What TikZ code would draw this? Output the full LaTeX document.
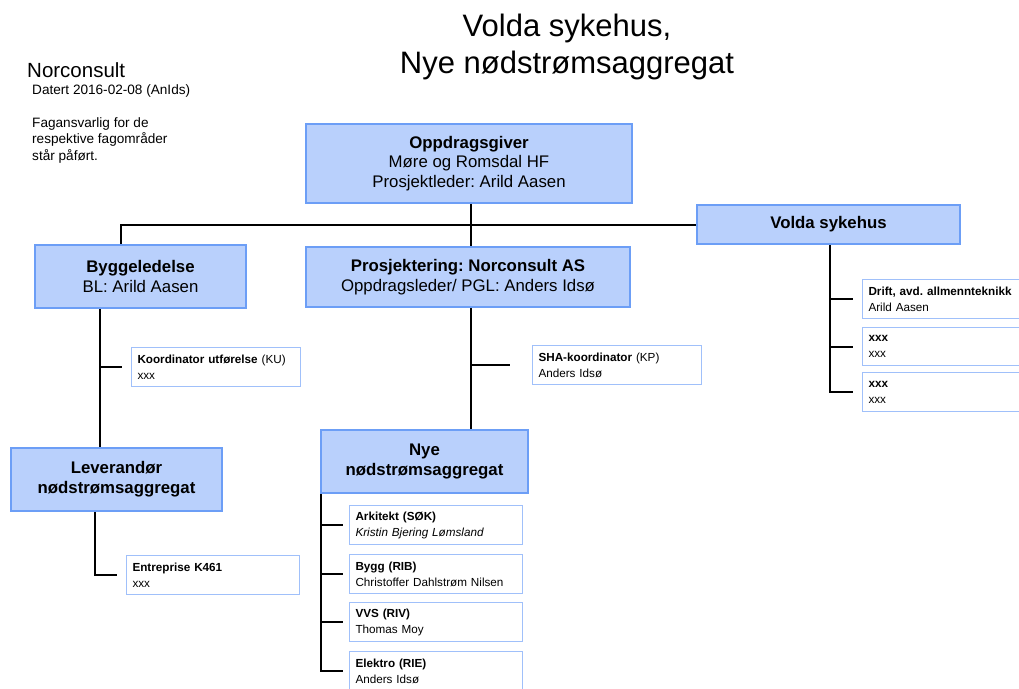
\documentclass[tikz,border=0pt]{standalone}
\usepackage{fontspec}
\setmainfont{Liberation Sans}
\usetikzlibrary{positioning, calc}
\definecolor{vsfill}{RGB}{185,208,252}
\definecolor{vsedge}{RGB}{108,158,246}
\definecolor{vsthin}{RGB}{160,192,250}
\frenchspacing

\begin{document}
\begin{tikzpicture}[x=1pt, y=-1pt,
  unit/.style={rectangle, draw=vsedge, line width=1.8pt, fill=vsfill, align=center, inner sep=0pt, font=\fontsize{16.8}{19.8}\selectfont},
  role/.style={rectangle, draw=vsthin, line width=1pt, fill=white, anchor=north west, align=left, inner xsep=6pt, inner ysep=0pt, text width=#1, minimum height=39pt, font=\fontsize{11.7}{16}\selectfont},
  role/.default=155pt,
  note/.style={anchor=west, inner sep=0pt, align=left},
  link/.style={line width=2pt, black}
]
\useasboundingbox (0,0) rectangle (1019,688);
\clip (0,0) rectangle (1019,688);

% title and notes
\node[align=center, inner sep=0pt, font=\fontsize{31}{37}\selectfont] (title) at (567,47) {Volda sykehus,\\Nye nødstrømsaggregat};
\node[note, font=\fontsize{20.5}{23}\selectfont] (firm) at (27,70) {Norconsult};
\node[note, font=\fontsize{13.6}{16}\selectfont] (date) at (32,91) {Datert 2016-02-08 (AnIds)};
\node[note, font=\fontsize{13.6}{16.5}\selectfont] (fag) at (32,140) {Fagansvarlig for de\\respektive fagområder\\står påført.};

% main units
\node[unit, minimum width=326pt, minimum height=79pt] (opp) at (469,163.5) {\textbf{Oppdragsgiver}\\Møre og Romsdal HF\\Prosjektleder: Arild Aasen};
\node[unit, minimum width=263pt, minimum height=39pt] (volda) at (828.5,224.5) {\textbf{Volda sykehus}};
\node[unit, minimum width=211pt, minimum height=63pt] (byg) at (140.5,276.5) {\textbf{Byggeledelse}\\BL: Arild Aasen};
\node[unit, minimum width=324pt, minimum height=60pt] (pro) at (468,277) {\textbf{Prosjektering: Norconsult AS}\\Oppdragsleder/ PGL: Anders Idsø};
\node[unit, minimum width=211pt, minimum height=63pt] (lev) at (116.5,479.5) {\textbf{Leverandør}\\\textbf{nødstrømsaggregat}};
\node[unit, minimum width=207pt, minimum height=63pt] (nye) at (424.5,461.5) {\textbf{Nye}\\\textbf{nødstrømsaggregat}};

% roles
\node[role=157pt] (ku) at (131,347) {\textbf{Koordinator utførelse} (KU)\\xxx};
\node[role=161pt] (ent) at (126,555) {\textbf{Entreprise K461}\\xxx};
\node[role=157pt] (sha) at (532,345) {\textbf{SHA-koordinator} (KP)\\Anders Idsø};
\node[role=161pt] (ark) at (349,505) {\textbf{Arkitekt (SØK)}\\\textit{Kristin Bjering Lømsland}};
\node[role=161pt] (rib) at (349,554) {\textbf{Bygg (RIB)}\\Christoffer Dahlstrøm Nilsen};
\node[role=161pt] (riv) at (349,602) {\textbf{VVS (RIV)}\\Thomas Moy};
\node[role=161pt] (rie) at (349,651) {\textbf{Elektro (RIE)}\\Anders Idsø};
\node[role=162pt] (drift) at (862,279) {\textbf{Drift, avd. allmennteknikk}\\Arild Aasen};
\node[role=162pt, minimum height=38pt] (vx1) at (862,327) {\textbf{xxx}\\xxx};
\node[role=162pt] (vx2) at (862,372) {\textbf{xxx}\\xxx};

% connectors
\coordinate (bygtop) at ([xshift=-20]byg.north);
\draw[link] (bygtop) |- (volda.west);
\draw[link] ([xshift=2]opp.south) -- ([xshift=2]opp.south |- pro.north);

\coordinate (bygspine) at ([xshift=66]byg.south west);
\draw[link] (bygspine) -- (bygspine |- lev.north);
\draw[link] (bygspine |- ku.west) -- ([xshift=-9]ku.west);

\coordinate (levspine) at ([xshift=85]lev.south west);
\draw[link] (levspine) |- ([xshift=-9]ent.west);

\coordinate (prospine) at ([xshift=3]pro.south);
\draw[link] (prospine) -- (prospine |- nye.north);
\draw[link] (prospine |- sha.west) -- ([xshift=-22]sha.west);

\coordinate (nyespine) at ([xshift=1]nye.south west);
\draw[link] (nyespine) |- ([xshift=-6]rie.west);
\foreach \r in {ark, rib, riv}
  \draw[link] (nyespine |- \r.west) -- ([xshift=-6]\r.west);

\coordinate (voldaspine) at ([xshift=1.5]volda.south);
\draw[link] (voldaspine) |- ([xshift=-9]vx2.west);
\foreach \r in {drift, vx1}
  \draw[link] (voldaspine |- \r.west) -- ([xshift=-9]\r.west);
\end{tikzpicture}
\end{document}
